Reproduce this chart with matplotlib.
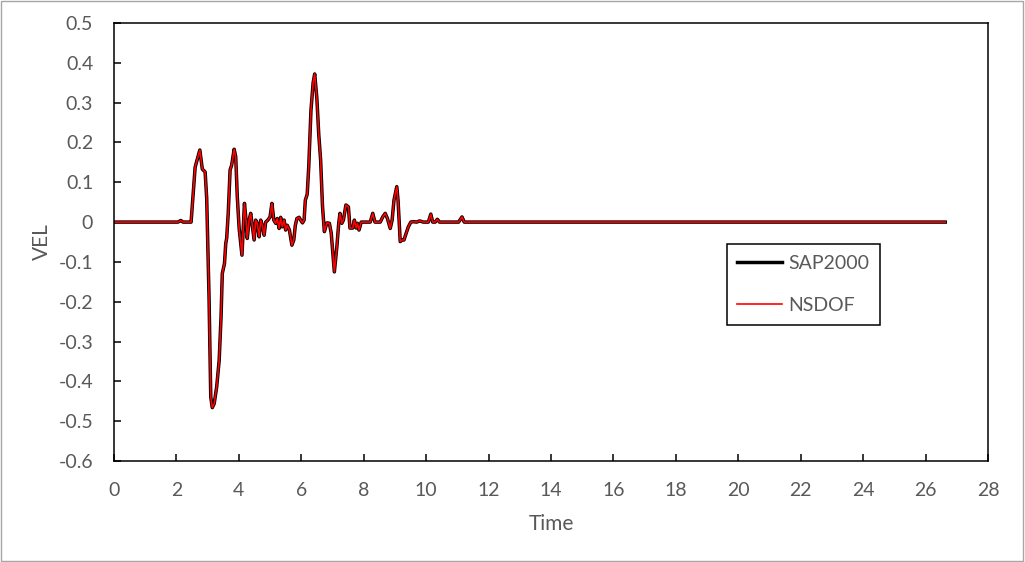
import matplotlib
matplotlib.use('Agg')
from matplotlib import pyplot as plt
from matplotlib.patches import Rectangle
from matplotlib.ticker import MultipleLocator, FuncFormatter

# time (s) and velocity
tiempo = [0.0, 2.05, 2.14, 2.21, 2.47, 2.60, 2.75, 2.83, 2.92, 2.97, 3.045, 3.08,
          3.10, 3.15, 3.21, 3.29, 3.37, 3.43, 3.47, 3.54, 3.58, 3.61, 3.66, 3.72,
          3.77, 3.85, 3.90, 3.95, 4.01, 4.06, 4.10, 4.15, 4.18, 4.23, 4.27, 4.33,
          4.38, 4.43, 4.49, 4.54, 4.59, 4.65, 4.70, 4.75, 4.81, 4.86, 4.93, 5.00,
          5.06, 5.12, 5.18, 5.23, 5.29, 5.34, 5.39, 5.45, 5.50, 5.55, 5.62, 5.70,
          5.76, 5.81, 5.86, 5.93, 5.98, 6.04, 6.09, 6.13, 6.19, 6.24, 6.31, 6.38,
          6.43, 6.50, 6.56, 6.62, 6.68, 6.74, 6.82, 6.90, 6.96, 7.06, 7.14, 7.20,
          7.24, 7.30, 7.35, 7.43, 7.51, 7.56, 7.65, 7.70, 7.76, 7.80, 7.85, 7.92,
          8.21, 8.29, 8.36, 8.53, 8.61, 8.69, 8.76, 8.85, 8.91, 8.97, 9.06, 9.10,
          9.17, 9.23, 9.29, 9.36, 9.43, 9.51, 9.59, 9.70, 9.79, 9.91, 10.07, 10.15,
          10.21, 10.29, 10.36, 10.43, 11.04, 11.15, 11.22, 26.63]

vel_sap2000 = [0.0, 0.0, 0.004, 0.0, 0.0, 0.138, 0.181, 0.133, 0.126, 0.06, -0.188, -0.354,
               -0.439, -0.466, -0.456, -0.414, -0.347, -0.238, -0.129, -0.104, -0.054, -0.041, 0.022, 0.131,
               0.143, 0.183, 0.164, 0.064, -0.016, -0.054, -0.083, -0.003, 0.047, 0.005, -0.041, 0.005,
               0.022, -0.008, -0.045, 0.005, -0.003, -0.037, 0.005, -0.008, -0.033, 0.0, 0.005, 0.013,
               0.047, 0.005, -0.003, 0.009, -0.016, 0.012, -0.012, 0.005, -0.020, -0.008, -0.020, -0.058,
               -0.045, -0.008, 0.009, 0.012, 0.005, -0.002, 0.005, 0.055, 0.07, 0.14, 0.28, 0.35,
               0.372, 0.31, 0.22, 0.156, 0.04, -0.024, -0.002, -0.003, -0.028, -0.125, -0.062, -0.003,
               0.022, -0.003, 0.005, 0.043, 0.038, -0.015, -0.015, 0.005, -0.015, -0.003, -0.02, 0.0,
               0.0, 0.022, 0.0, 0.0, 0.013, 0.022, 0.009, -0.016, 0.005, 0.055, 0.089, 0.055,
               -0.049, -0.045, -0.045, -0.028, -0.012, 0.0, 0.001, 0.0, 0.003, 0.0, 0.0, 0.02,
               0.0, 0.0, 0.007, 0.0, 0.0, 0.013, 0.0, 0.0]

# NSDOF curve lies on top of the SAP2000 one
vel_nsdof = list(vel_sap2000)

gris = '#595959'
plt.rcParams['font.family'] = ['Lato', 'DejaVu Sans']
plt.rcParams['font.size'] = 14

fig = plt.figure(figsize=(10.25, 5.62), dpi=100)
ax = fig.add_axes([0.1112, 0.1797, 0.8527, 0.7794])

ax.plot(tiempo, vel_sap2000, color='black', lw=2.5, label='SAP2000', solid_joinstyle='round')
ax.plot(tiempo, vel_nsdof, color='red', lw=1.2, label='NSDOF')

ax.set_xlim(0, 28)
ax.set_ylim(-0.6, 0.5)
ax.xaxis.set_major_locator(MultipleLocator(2))
ax.yaxis.set_major_locator(MultipleLocator(0.1))
ax.yaxis.set_major_formatter(FuncFormatter(lambda v, p: '%g' % round(v, 1) if abs(v) > 1e-9 else '0'))

for lado in ax.spines.values():
    lado.set_linewidth(1.1)
    lado.set_color('black')
ax.tick_params(direction='in', length=5, width=1.1, colors='black', labelcolor=gris)
ax.tick_params(axis='x', pad=15)
ax.tick_params(axis='y', pad=15)

ax.set_xlabel('Time', color=gris, fontsize=15, labelpad=11)
ax.set_ylabel('VEL', color=gris, fontsize=15, labelpad=5)

leg = ax.legend(loc='upper left', bbox_to_anchor=(0.701, 0.4954), frameon=True,
                fancybox=False, edgecolor='black', framealpha=1, handlelength=2.3,
                handletextpad=0.3, labelspacing=1.3, borderpad=0.55, borderaxespad=0)
leg.get_frame().set_linewidth(1.1)
for t in leg.get_texts():
    t.set_color(gris)

# grey outer border of the chart area
fig.patches.append(Rectangle((0.0005, 0.001), 0.998, 0.997, transform=fig.transFigure,
                             fill=False, edgecolor='#a6a6a6', lw=1))

fig.savefig('out.png', dpi=100)
